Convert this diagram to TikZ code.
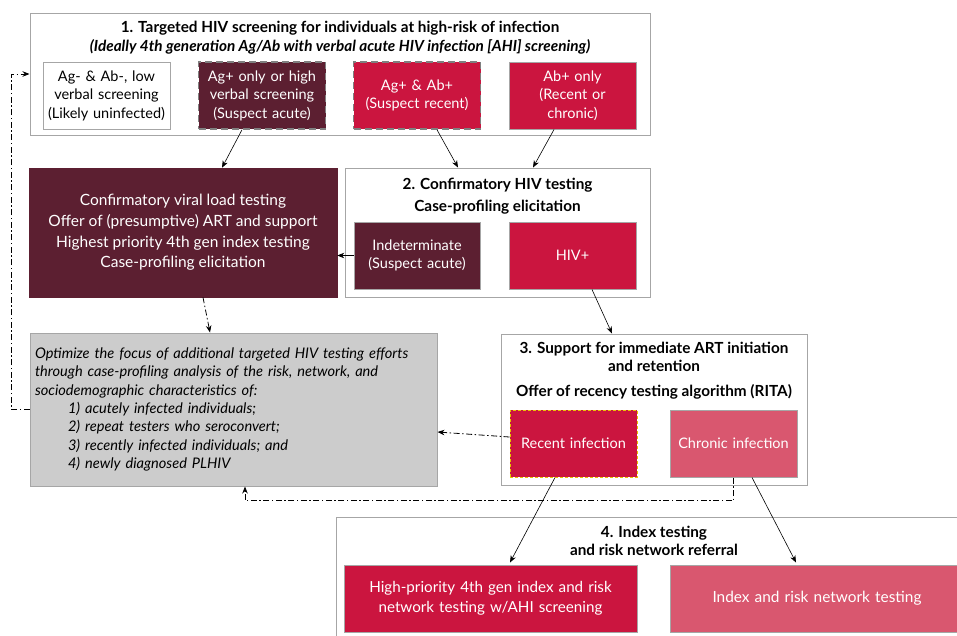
\documentclass[tikz,border=0pt]{standalone}
\usepackage{fontspec}
\setmainfont{Lato}
\usetikzlibrary{arrows.meta}

\definecolor{wine}{HTML}{5C1F31}
\definecolor{crimson}{HTML}{CB153F}
\definecolor{rose}{HTML}{D9576F}
\definecolor{panel}{HTML}{CCCCCC}
\definecolor{rim}{HTML}{A6A6A6}
\definecolor{gold}{HTML}{E8C400}

\begin{document}
\begin{tikzpicture}
    [x=1pt, y=-1pt, >={Stealth[length=7pt,width=5.5pt]}, semithick,
     stage/.style={draw=rim, line width=1pt, inner sep=0pt},
     heading/.style={align=center, font=\bfseries\fontsize{15.3}{#1}\selectfont},
     heading/.default=18,
     cell/.style={draw=rim, line width=1pt, align=center, inner sep=0pt,
        text width=#1, minimum height=67pt, text=white,
        font=\fontsize{14.5}{18.5}\selectfont},
     cell/.default=127pt,
     guess/.style={dash pattern=on 7pt off 4pt, draw=gray, line width=1.5pt},
     feedback/.style={dash pattern=on 6pt off 2.5pt on 1.5pt off 2.5pt, line width=0.8pt}]
    \useasboundingbox (0, 0) rectangle (957, 635);
    \clip (0, 0) rectangle (957, 635);
    \fill[white] (0, 0) rectangle (957, 635);

    % 1. screening
    \node[stage, minimum width=620pt, minimum height=122pt] (scr) at (340, 74) {};
    \node[heading=19] (scrtitle) at (340, 37.5) {1. Targeted HIV screening for individuals at high-risk of infection\\ \itshape (Ideally 4th generation Ag/Ab with verbal acute HIV infection [AHI] screening)};
    \node[cell, fill=white, text=black] (agneg) at (106.5, 95.5) {Ag- \& Ab-, low\\verbal screening\\(Likely uninfected)};
    \node[cell, fill=wine, guess] (agpos) at (262, 95.5) {Ag+ only or high\\verbal screening\\(Suspect acute)};
    \node[cell, fill=crimson, guess] (agab) at (417, 95.5) {Ag+ \& Ab+\\(Suspect recent)};
    \node[cell, fill=crimson] (abpos) at (572.5, 95.5) {Ab+ only\\(Recent or\\chronic)};

    % acute track
    \node[draw=wine, fill=wine, text=white, minimum width=308pt, minimum height=129pt, align=center, font=\fontsize{15.5}{20.7}\selectfont] (acute) at (183, 232.5) {Confirmatory viral load testing\\Offer of (presumptive) ART and support\\Highest priority 4th gen index testing\\Case-profiling elicitation};

    % 2. confirmatory
    \node[stage, minimum width=305pt, minimum height=129pt] (conf) at (497.5, 232.5) {};
    \node[heading=22] (conftitle) at (497.5, 196) {2. Confirmatory HIV testing\\Case-profiling elicitation};
    \node[cell=126pt, fill=wine] (indet) at (417, 255.5) {Indeterminate\\(Suspect acute)};
    \node[cell, fill=crimson] (hivpos) at (572.5, 255.5) {HIV+};

    % case profiling
    \node[draw=rim, line width=1pt, fill=panel, minimum width=407pt, minimum height=153pt, inner xsep=5pt, text width=397pt, align=left, font=\itshape\fontsize{14.6}{18.3}\selectfont] (optim) at (233.5, 409.5) {Optimize the focus of additional targeted HIV testing efforts\\through case-profiling analysis of the risk, network, and\\sociodemographic characteristics of:\\
        \hspace*{33pt}1) acutely infected individuals;\\
        \hspace*{33pt}2) repeat testers who seroconvert;\\
        \hspace*{33pt}3) recently infected individuals; and\\
        \hspace*{33pt}4) newly diagnosed PLHIV};

    % 3. ART
    \node[stage, minimum width=306pt, minimum height=151pt] (art) at (654, 409.5) {};
    \node[heading] (arttitle) at (654, 370.5) {3. Support for immediate ART initiation\\and retention\\[7pt]Offer of recency testing algorithm (RITA)};
    \node[cell, fill=crimson, draw=gold, dash pattern=on 3pt off 2pt] (recent) at (573.5, 443.5) {Recent infection};
    \node[cell, fill=rose] (chronic) at (733.5, 443.5) {Chronic infection};

    % 4. index testing
    \node[stage, minimum width=636pt, minimum height=125pt] (index) at (654, 579.5) {};
    \node[heading] (indextitle) at (654, 541) {4. Index testing\\and risk network referral};
    \node[cell=293pt, fill=crimson, font=\fontsize{15.2}{20}\selectfont] (hiprio) at (490.5, 598.5) {High-priority 4th gen index and risk\\network testing w/AHI screening};
    \node[cell=294pt, fill=rose, font=\fontsize{15.4}{20}\selectfont] (netw) at (817, 598.5) {Index and risk network testing};

    \path [->] ([xshift=-20pt]agpos.south) edge ([xshift=39pt]acute.north);
    \path [->] ([xshift=20pt]agab.south) edge ([xshift=-39.5pt]conf.north);
    \path [->] ([xshift=-18.5pt]abpos.south) edge ([xshift=35.5pt]conf.north);
    \path [->] (indet.west) edge (indet.west -| acute.east);
    \path [->] ([xshift=19.5pt]hivpos.south) edge ([xshift=-42pt]art.north);
    \path [->] ([xshift=-18.5pt]recent.south) edge ([xshift=19.5pt, yshift=2pt]hiprio.north);
    \path [->] ([xshift=18.5pt]chronic.south) edge ([xshift=-21pt, yshift=2pt]netw.north);

    \draw [->, feedback] ([xshift=20pt]acute.south) -- ([xshift=-23.5pt]optim.north);
    \draw [->, feedback] ([yshift=6.5pt]recent.west) -- ([yshift=-22.5pt]optim.east);
    \draw [->, feedback] (chronic.south) -- ++(0, 23) -| ([xshift=11.5pt]optim.south);
    \draw [->, feedback] (optim.west) -- ++(-18, 0) |- (scr.west);
\end{tikzpicture}
\end{document}
